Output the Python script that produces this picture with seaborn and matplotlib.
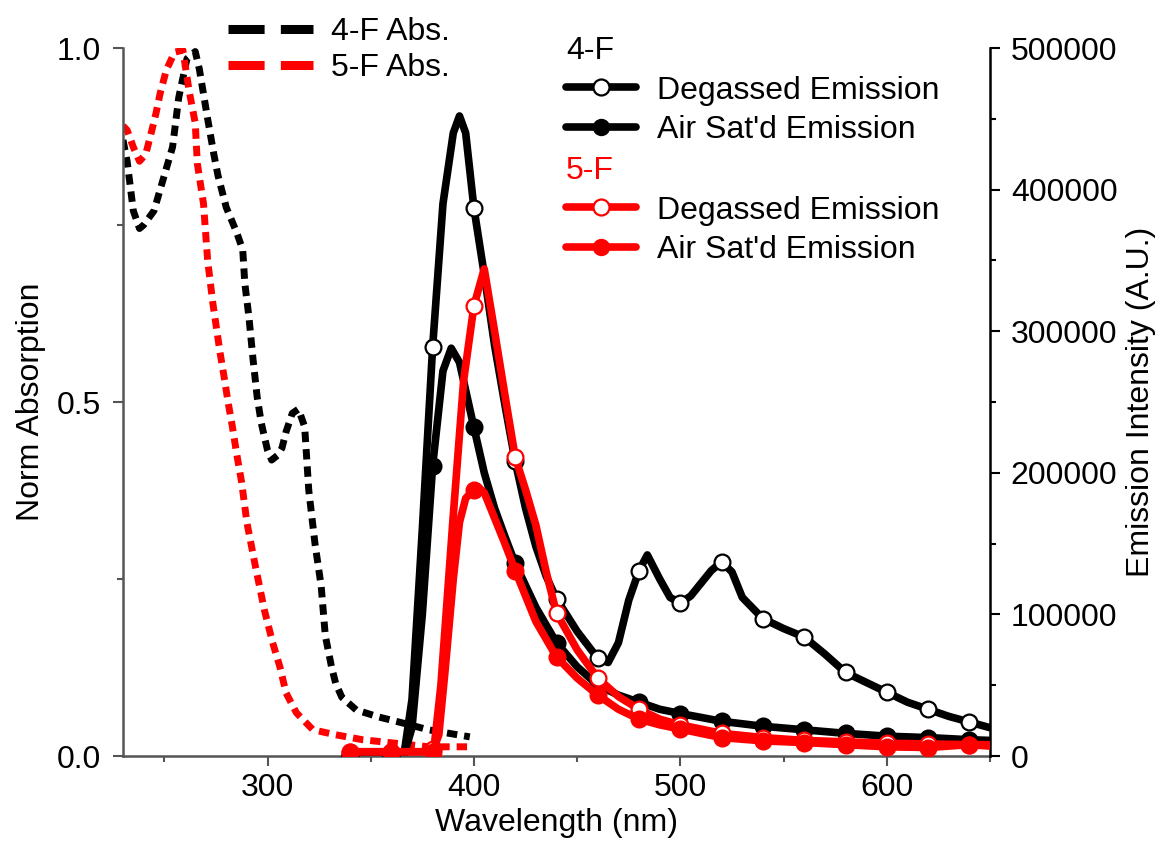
import numpy as np
import pandas as pd
import matplotlib
matplotlib.use("Agg")
import matplotlib.pyplot as plt
import seaborn as sns
from matplotlib.lines import Line2D
from matplotlib.ticker import MultipleLocator, FixedLocator, FuncFormatter

# ---------------- data ----------------
abs4_wl = [230, 232, 235, 238, 240, 245, 249, 254, 257, 261, 265, 267, 271, 274, 276, 280, 285, 288,
           289, 291, 293, 295, 297, 300, 302, 305, 307, 309, 312, 315, 318, 319, 320, 323, 326, 328,
           331, 333, 336, 343, 354, 365, 378, 398]
abs4_val = [0.87, 0.84, 0.77, 0.745, 0.75, 0.77, 0.81, 0.86, 0.93, 0.985, 0.995, 0.97, 0.90, 0.85, 0.82,
            0.775, 0.74, 0.715, 0.668, 0.62, 0.56, 0.507, 0.47, 0.432, 0.418, 0.425, 0.435, 0.458, 0.484,
            0.49, 0.465, 0.42, 0.375, 0.30, 0.24, 0.17, 0.126, 0.103, 0.083, 0.065, 0.055, 0.047, 0.037, 0.027]

abs5_wl = [230, 232, 235, 238, 241, 244, 246, 248, 251, 255, 259, 262, 265, 266, 269, 271, 273.5, 275.5,
           277, 279, 281, 283, 285, 287.5, 290, 294, 298.5, 302.5, 306, 309, 314, 322, 333, 346, 362, 378, 398]
abs5_val = [0.89, 0.884, 0.86, 0.84, 0.85, 0.884, 0.908, 0.936, 0.969, 0.994, 0.997, 0.94, 0.894, 0.837,
            0.78, 0.70, 0.64, 0.60, 0.57, 0.535, 0.498, 0.465, 0.428, 0.386, 0.33, 0.27, 0.206, 0.16,
            0.126, 0.089, 0.061, 0.037, 0.03, 0.023, 0.018, 0.013, 0.013]

em4_deg_wl = [340, 360, 366, 370, 375, 380, 385, 390, 393, 396, 400, 405, 410, 415, 420, 425, 430, 435,
              440, 450, 460, 465, 470, 475, 480, 484, 490, 495, 500, 505, 510, 515, 520, 525, 530, 540,
              550, 560, 570, 580, 590, 600, 610, 620, 630, 640, 650]
em4_deg_val = [0, 0, 0, 40000, 160000, 289000, 390000, 440000, 452000, 440000, 387000, 340000, 290000,
               248000, 208000, 175000, 148000, 127000, 111000, 88000, 69000, 66000, 80000, 110000, 131000,
               142000, 125000, 112000, 108000, 113000, 122000, 131000, 137000, 130000, 112000, 97000,
               90000, 84000, 72000, 59000, 52000, 45000, 38000, 33000, 28000, 24000, 20000]

em4_air_wl = [340, 360, 366, 370, 375, 380, 385, 389, 393, 400, 405, 410, 415, 420, 430, 440, 450, 460,
              470, 480, 490, 500, 520, 540, 560, 580, 600, 620, 640, 650]
em4_air_val = [1000, 1000, 0, 20000, 100000, 205000, 272000, 288000, 278000, 232000, 200000, 175000,
               155000, 136000, 105000, 80000, 63000, 50000, 43000, 38000, 33000, 30000, 24500, 21000,
               18500, 16000, 14000, 13000, 11500, 11000]

em5_deg_wl = [340, 360, 378, 380, 381, 384, 387, 390, 395, 400, 405, 410, 415, 420, 425, 430, 435, 440,
              450, 460, 470, 480, 490, 500, 520, 540, 560, 580, 600, 620, 640, 650]
em5_deg_val = [3000, 3000, 3000, 5000, 10000, 50000, 110000, 170000, 265000, 318000, 344000, 300000,
               255000, 211000, 188000, 163000, 130000, 101000, 75000, 55000, 42000, 33000, 26000, 22000,
               16000, 13000, 11000, 10000, 9000, 8500, 8000, 8000]

em5_air_wl = [340, 360, 380, 383, 386, 390, 393, 396, 400, 402, 405, 410, 415, 420, 430, 440, 450, 460,
              470, 480, 490, 500, 520, 540, 560, 580, 600, 620, 640, 650]
em5_air_val = [3000, 3000, 3000, 15000, 60000, 125000, 165000, 182000, 188000, 190000, 186000, 168000,
               150000, 131000, 95000, 70000, 55000, 43000, 33000, 26000, 22000, 19000, 13000, 10700,
               9500, 8000, 6500, 6000, 8000, 7000]

x_ticks = [300, 400, 500, 600]
left_ticks = [0.0, 0.5, 1.0]
right_ticks = [0, 100000, 200000, 300000, 400000, 500000]

RED = "#ff0000"
FS = 23

# ---------------- style ----------------
sns.set_theme(style="ticks")
plt.rcParams['font.family'] = ['Liberation Sans', 'DejaVu Sans']
plt.rcParams['text.color'] = 'black'
plt.rcParams['axes.labelcolor'] = 'black'
plt.rcParams['xtick.labelcolor'] = 'black'
plt.rcParams['ytick.labelcolor'] = 'black'

W, H = 1166, 852
fig = plt.figure(figsize=(W / 100, H / 100), dpi=100)
L, R, T, B = 123, 990, 48, 756
ax = fig.add_axes([L / W, 1 - B / H, (R - L) / W, (B - T) / H])
ax2 = ax.twinx()

# ---------------- absorption (left axis) ----------------
for wl, val, col in [(abs4_wl, abs4_val, "black"), (abs5_wl, abs5_val, RED)]:
    sns.lineplot(x=wl, y=val, ax=ax, color=col, lw=5, legend=False)
    ax.lines[-1].set_dashes((1.5, 1.0))
    ax.lines[-1].set_dash_capstyle("butt")

# ---------------- emission (right axis) ----------------
series = [
    (em4_deg_wl, em4_deg_val, "black", True),
    (em4_air_wl, em4_air_val, "black", False),
    (em5_deg_wl, em5_deg_val, RED, True),
    (em5_air_wl, em5_air_val, RED, False),
]
z = 2
for wl, val, col, is_open in series:
    sns.lineplot(x=wl, y=val, ax=ax2, color=col, lw=5.5, legend=False, zorder=z)
    df = pd.DataFrame({"wl": wl, "v": val})
    mk = df[(df["wl"] % 20 == 0)]
    sns.scatterplot(x=mk["wl"], y=mk["v"], ax=ax2, s=130, marker="o",
                    color=("white" if is_open else col), edgecolor=col, linewidth=1.6,
                    zorder=z + 1, legend=False)
    z += 2

# ---------------- axes formatting ----------------
ax.set_xlim(230, 650)
ax.set_ylim(0, 1.0)
ax2.set_ylim(0, 500000)
ax.xaxis.set_major_locator(FixedLocator(x_ticks))
ax.xaxis.set_minor_locator(MultipleLocator(50))
ax.yaxis.set_major_locator(FixedLocator(left_ticks))
ax.yaxis.set_minor_locator(MultipleLocator(0.25))
ax.yaxis.set_major_formatter(FuncFormatter(lambda v, p: f"{v:.1f}"))
ax2.yaxis.set_major_locator(FixedLocator(right_ticks))
ax2.yaxis.set_minor_locator(MultipleLocator(50000))
ax2.yaxis.set_major_formatter(FuncFormatter(lambda v, p: f"{int(round(v))}"))

for a in (ax, ax2):
    a.set_facecolor("none")
    for s in a.spines.values():
        s.set_visible(False)
ax.spines["left"].set_visible(True)
ax.spines["bottom"].set_visible(True)
ax2.spines["right"].set_visible(True)
ax.spines["left"].set_color("#555555")
ax.spines["bottom"].set_color("#555555")
ax2.spines["right"].set_color("black")
for s in (ax.spines["left"], ax.spines["bottom"], ax2.spines["right"]):
    s.set_linewidth(1.8)

ax.tick_params(axis="both", which="major", length=7, width=1.5, labelsize=FS, color="#555555",
               labelcolor="black", direction="out")
ax.tick_params(axis="both", which="minor", length=4.5, width=1.5, color="#555555", direction="out")
ax.tick_params(axis="y", which="major", pad=9)
ax.tick_params(axis="x", which="major", pad=5)
ax2.tick_params(axis="y", which="major", length=7, width=1.5, labelsize=FS, color="black",
                labelcolor="black", pad=8)
ax2.tick_params(axis="y", which="minor", length=4.5, width=1.5, color="black")
ax.grid(False)
ax2.grid(False)

ax.set_xlabel("Wavelength (nm)", fontsize=FS, labelpad=4, color="black")
ax.set_ylabel("Norm Absorption", fontsize=FS, color="black")
ax2.set_ylabel("Emission Intensity (A.U.)", fontsize=FS, rotation=90, color="black")
ax.yaxis.set_label_coords((46 - L) / (R - L), 0.5)
ax2.yaxis.set_label_coords((1126 - L) / (R - L), 0.5)

# ---------------- legends ----------------
tf = fig.transFigure
abs_handles = [Line2D([], [], color="black", lw=6.5, dashes=(4.0, 1.8), dash_capstyle="butt"),
               Line2D([], [], color=RED, lw=6.5, dashes=(4.0, 1.8), dash_capstyle="butt")]
leg1 = ax2.legend(abs_handles, ["4-F Abs.", "5-F Abs."], loc="upper left",
                  bbox_to_anchor=(228 / W, 1 - 17 / H), bbox_transform=tf, frameon=False,
                  fontsize=FS, handlelength=2.66, handletextpad=0.55, labelspacing=0.2,
                  borderpad=0, borderaxespad=0, labelcolor="black")
ax2.add_artist(leg1)


def em_handles(col):
    return [Line2D([], [], color=col, lw=5.5, marker="o", markersize=11.5,
                   markerfacecolor="white", markeredgecolor=col, markeredgewidth=1.6),
            Line2D([], [], color=col, lw=5.5, marker="o", markersize=11.5,
                   markerfacecolor=col, markeredgecolor=col)]


leg2 = ax2.legend(em_handles("black"), ["Degassed Emission", "Air Sat'd Emission"], title="4-F",
                  title_fontsize=FS, alignment="left", loc="upper left",
                  bbox_to_anchor=(566 / W, 1 - 36 / H), bbox_transform=tf, frameon=False,
                  fontsize=FS, handlelength=2.2, handletextpad=0.65, labelspacing=0.3,
                  borderpad=0, borderaxespad=0, labelcolor="black")
leg2.get_title().set_color("black")
ax2.add_artist(leg2)
leg3 = ax2.legend(em_handles(RED), ["Degassed Emission", "Air Sat'd Emission"], title="5-F",
                  title_fontsize=FS, alignment="left", loc="upper left",
                  bbox_to_anchor=(566 / W, 1 - 156 / H), bbox_transform=tf, frameon=False,
                  fontsize=FS, handlelength=2.2, handletextpad=0.65, labelspacing=0.3,
                  borderpad=0, borderaxespad=0, labelcolor="black")
leg3.get_title().set_color(RED)

fig.savefig("out.png", dpi=100)
